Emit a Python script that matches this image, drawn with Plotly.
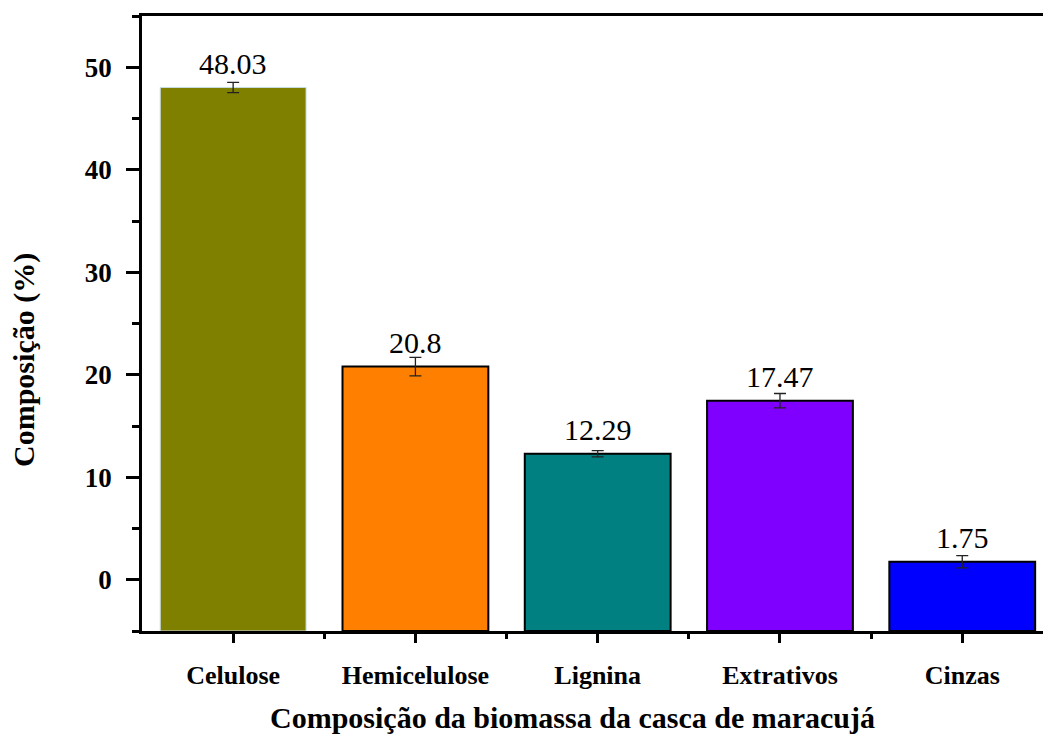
import plotly.graph_objects as go

categories = ["Celulose", "Hemicelulose", "Lignina", "Extrativos", "Cinzas"]
values = [48.03, 20.8, 12.29, 17.47, 1.75]
errors = [0.5, 0.9, 0.3, 0.7, 0.6]
colors = ["#808000", "#FF8000", "#008080", "#8000FF", "#0000FF"]
edge_colors = ["#c8dce6", "black", "black", "black", "black"]
edge_widths = [1, 2, 2, 2, 2]
y_ticks = [0, 10, 20, 30, 40, 50]
y_min, y_max = -5, 55

FONT = "Liberation Serif, Times New Roman, serif"
xs = list(range(len(categories)))

fig = go.Figure()
# bars are drawn from the bottom of the axis (as in the original Origin plot)
fig.add_trace(go.Bar(
    x=xs, y=[v - y_min for v in values], base=y_min, width=0.8,
    marker=dict(color=colors, line=dict(color=edge_colors, width=edge_widths)),
    error_y=dict(type="data", array=errors, visible=True, color="#222222",
                 thickness=1.3, width=6),
    showlegend=False, cliponaxis=False,
))

for xi, v in zip(xs, values):
    fig.add_annotation(x=xi, y=v, text=str(v), showarrow=False,
                       xanchor="center", yanchor="middle", yshift=24,
                       font=dict(family=FONT, size=30, color="black"))

fig.add_annotation(xref="paper", yref="paper", x=0.4778, y=0,
                   text="<b>Composição da biomassa da casca de maracujá</b>",
                   showarrow=False, xanchor="center", yanchor="middle", yshift=-86,
                   font=dict(family=FONT, size=30, color="black"))
fig.add_annotation(xref="paper", yref="paper", x=0, y=0.4407,
                   text="<b>Composição (%)</b>", textangle=-90,
                   showarrow=False, xanchor="center", yanchor="middle", xshift=-118,
                   font=dict(family=FONT, size=30, color="black"))

fig.update_layout(
    width=1043, height=736,
    margin=dict(l=142, r=0, t=16, b=105),
    plot_bgcolor="white", paper_bgcolor="white",
    font=dict(family=FONT, color="black"),
)
fig.update_xaxes(
    range=[-0.5, 4.443], tickmode="array", tickvals=xs, ticktext=categories,
    showline=True, linecolor="black", linewidth=2.5, mirror=True,
    ticks="outside", ticklen=9, tickwidth=2.5, tickcolor="black",
    ticklabelstandoff=10,
    tickfont=dict(family=FONT, size=26, color="black", weight="bold"),
    minor=dict(tickmode="array", tickvals=[0.5, 1.5, 2.5, 3.5], ticks="outside",
               ticklen=5, tickwidth=2.5, tickcolor="black"),
    showgrid=False, zeroline=False,
)
fig.update_yaxes(
    range=[y_min, y_max], tickmode="array", tickvals=y_ticks,
    showline=True, linecolor="black", linewidth=2.5,
    ticks="outside", ticklen=13, tickwidth=2.5, tickcolor="black",
    ticklabelstandoff=9,
    tickfont=dict(family=FONT, size=27, color="black", weight="bold"),
    minor=dict(dtick=5, tick0=0, ticks="outside", ticklen=7, tickwidth=2.5,
               tickcolor="black"),
    showgrid=False, zeroline=False,
)

fig.write_html("out.html")
